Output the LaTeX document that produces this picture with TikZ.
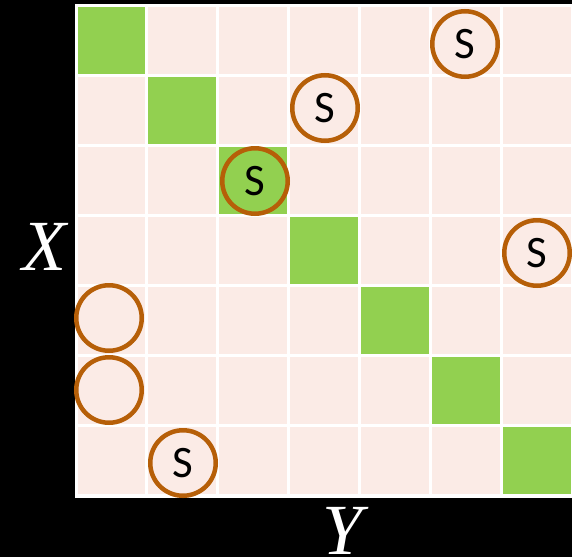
\documentclass[tikz,border=0pt]{standalone}
\usepackage{fontspec}
\newfontfamily\calib{Carlito}
\newfontfamily\axisfont{Liberation Serif}
\definecolor{cellpink}{HTML}{FBEBE6}
\definecolor{cellgreen}{HTML}{92D050}
\definecolor{ringbrown}{HTML}{B65F08}
\begin{document}
\begin{tikzpicture}[x=1pt,y=-1pt,
  ring/.style={circle, draw=ringbrown, line width=4.5pt, minimum size=65.5pt, inner sep=0pt,
    font=\calib\fontsize{45}{45}\selectfont, text=black},
  axislabel/.style={text=white, font=\axisfont\itshape\fontsize{72}{72}\selectfont, inner sep=0pt}]
\useasboundingbox (0,0) rectangle (572,557);
\fill[black] (0,0) rectangle (572,557);
\fill[white] (74.5,3.5) rectangle (572,497.5);
\foreach \r in {0,...,6} {
  \foreach \c in {0,...,6} {
    \ifnum\r=\c
      \fill[cellgreen] ({76+\c*70.857+1.5},{5+\r*70.14+1.5}) rectangle ({76+(\c+1)*70.857-1.5},{5+(\r+1)*70.14-1.5});
    \else
      \fill[cellpink] ({76+\c*70.857+1.5},{5+\r*70.14+1.5}) rectangle ({76+(\c+1)*70.857-1.5},{5+(\r+1)*70.14-1.5});
    \fi
  }
}
\node[ring] (s05) at (465,44) {S};
\node[ring] (s13) at (325,108) {S};
\node[ring] (s22) at (255,181) {S};
\node[ring] (s36) at (537,253) {S};
\node[ring] (e40) at (109,318) {};
\node[ring] (e50) at (109,390) {};
\node[ring] (s61) at (183,463) {S};
\node[axislabel] (xl) at (44,247) {X};
\node[axislabel] (yl) at (343,531) {Y};
\end{tikzpicture}
\end{document}
